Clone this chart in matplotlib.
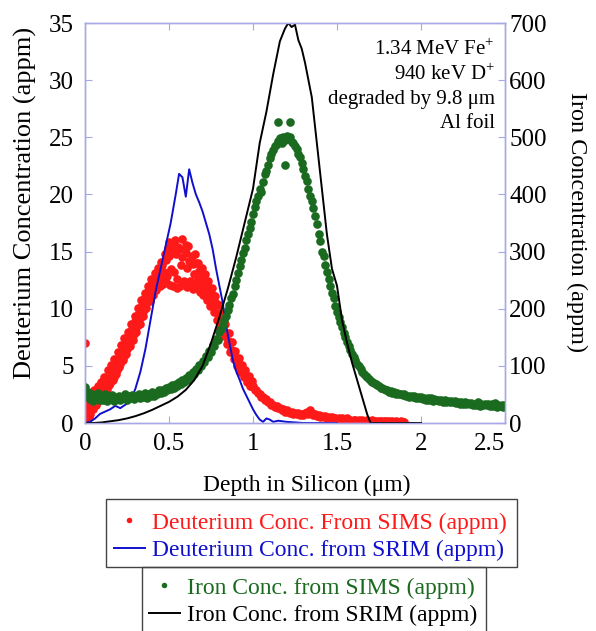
import numpy as np
import matplotlib.pyplot as plt
from matplotlib.lines import Line2D
from matplotlib.patches import Rectangle

plt.rcParams['font.family'] = 'Liberation Serif'
plt.rcParams['mathtext.fontset'] = 'custom'
plt.rcParams['mathtext.rm'] = 'Liberation Serif'

# Deuterium from SIMS (appm), sampled every 0.01 um
red_depth = np.round(np.arange(0, 1.905, 0.01), 2)
red_conc = [1.0, 0.3, 1.5, 0.8, 2.0, 1.2, 2.4, 1.8, 2.6, 2.2,
            3.0, 2.7, 3.4, 3.0, 3.9, 3.5, 4.4, 4.0, 5.0, 4.6,
            5.6, 5.2, 6.2, 5.9, 6.9, 6.5, 7.5, 7.1, 8.2, 7.8,
            8.9, 8.5, 9.6, 9.2, 10.3, 9.9, 11.0, 10.6, 11.7, 11.2,
            12.3, 11.9, 12.8, 12.4, 13.3, 12.8, 13.8, 13.2, 14.3, 12.9,
            14.6, 13.5, 15.0, 13.2, 14.8, 12.6, 15.2, 13.8, 14.5, 12.4,
            14.9, 13.6, 14.2, 12.3, 13.9, 13.0, 14.0, 12.6, 13.3, 12.2,
            12.9, 11.8, 12.4, 11.3, 11.8, 10.8, 11.2, 10.2, 10.5, 9.5,
            9.6, 8.8, 8.9, 8.0, 7.9, 7.2, 7.1, 6.4, 6.3, 5.8,
            5.6, 5.2, 5.1, 4.6, 4.5, 4.1, 4.0, 3.6, 3.6, 3.2,
            3.2, 2.9, 2.9, 2.6, 2.5, 2.3, 2.3, 2.0, 2.1, 1.8,
            1.8, 1.6, 1.6, 1.4, 1.5, 1.3, 1.3, 1.1, 1.2, 1.0,
            1.1, 1.0, 0.9, 1.0, 0.8, 0.9, 0.8, 0.9, 0.7, 0.8,
            0.7, 0.9, 1.0, 0.8, 1.1, 0.9, 0.7, 0.8, 0.6, 0.7,
            0.5, 0.6, 0.5, 0.6, 0.4, 0.5, 0.4, 0.5, 0.4, 0.4,
            0.3, 0.4, 0.3, 0.4, 0.3, 0.3, 0.4, 0.3, 0.3, 0.2,
            0.3, 0.3, 0.2, 0.3, 0.2, 0.3, 0.2, 0.2, 0.3, 0.2,
            0.2, 0.3, 0.2, 0.2, 0.1, 0.2, 0.2, 0.1, 0.2, 0.2,
            0.1, 0.2, 0.1, 0.2, 0.1, 0.2, 0.1, 0.1, 0.2, 0.1,
            0.1]

# second SIMS pass (offset half a step)
red2_depth = np.round(np.arange(0.005, 1.0, 0.01), 3)
red2_conc = [0.0, 1.9, 0.5, 2.3, 1.4, 2.9, 1.6, 3.2, 2.0, 3.6,
             2.5, 4.0, 2.9, 4.6, 3.3, 5.1, 3.8, 5.6, 4.3, 6.2,
             4.9, 6.8, 5.5, 7.4, 6.0, 8.0, 6.7, 8.7, 7.3, 9.4,
             8.0, 10.1, 8.7, 10.8, 9.4, 11.4, 10.1, 12.0, 10.7, 12.6,
             11.2, 13.1, 11.6, 13.6, 12.0, 14.1, 12.2, 14.8, 12.3, 15.3,
             12.1, 15.6, 12.0, 16.0, 11.8, 15.4, 12.0, 16.1, 12.2, 15.1,
             11.9, 15.5, 12.4, 14.6, 11.7, 14.8, 12.0, 14.0, 11.5, 13.6,
             11.2, 13.0, 10.8, 12.4, 10.2, 11.8, 9.7, 11.1, 9.0, 10.3,
             8.3, 9.5, 7.6, 8.7, 6.9, 7.9, 6.2, 7.1, 5.6, 6.3,
             5.0, 5.7, 4.5, 5.1, 4.0, 4.6, 3.6, 4.1, 3.2, 3.7]
red_out_depth = [0.0, 0.50, 0.60]
red_out_conc = [7.0, 15.8, 15.6]

# Deuterium from SRIM (appm)
blue_depth = [0.0, 0.03, 0.06, 0.09, 0.12, 0.15, 0.18, 0.21, 0.24, 0.27,
              0.30, 0.33, 0.36, 0.39, 0.42, 0.45, 0.48, 0.51, 0.54, 0.56,
              0.58, 0.60, 0.62, 0.64, 0.66, 0.68, 0.70, 0.72, 0.74, 0.76,
              0.78, 0.80, 0.82, 0.84, 0.86, 0.88, 0.90, 0.92, 0.94, 0.96,
              0.98, 1.00, 1.02, 1.04, 1.06, 1.08, 1.10, 1.12, 1.15, 1.20,
              1.30, 1.50]
blue_conc = [0.0, 0.1, 0.4, 0.8, 1.0, 1.2, 1.5, 1.3, 1.6, 1.9,
             3.0, 4.5, 6.5, 9.0, 11.5, 13.5, 15.5, 17.5, 20.0, 21.8,
             21.5, 19.8, 22.2, 21.0, 20.0, 19.3, 18.5, 17.5, 16.5, 15.2,
             13.5, 12.0, 10.5, 8.5, 7.0, 5.5, 4.5, 3.8, 3.0, 2.4,
             1.8, 1.2, 0.7, 0.3, 0.1, 0.4, 0.3, 0.1, 0.2, 0.1,
             0.0, 0.0]

# Iron from SIMS (appm), sampled every 0.01 um
green_depth = np.round(np.arange(0, 2.505, 0.01), 2)
green_conc = [63, 45, 55, 42, 50, 38, 48, 44, 52, 40,
              47, 41, 50, 39, 46, 43, 49, 38, 45, 42,
              48, 40, 46, 43, 50, 41, 47, 44, 49, 42,
              48, 45, 51, 43, 49, 46, 52, 44, 50, 48,
              54, 47, 53, 50, 57, 52, 58, 55, 61, 57,
              63, 59, 66, 62, 69, 65, 72, 68, 75, 72,
              79, 76, 84, 80, 89, 86, 95, 92, 102, 99,
              109, 107, 117, 115, 126, 124, 136, 134, 147, 146,
              160, 165, 172, 180, 188, 198, 206, 218, 226, 240,
              250, 262, 275, 285, 298, 306, 320, 330, 342, 352,
              365, 378, 388, 398, 410, 404, 422, 435, 441, 452,
              463, 470, 478, 485, 488, 494, 498, 490, 500, 496,
              502, 497, 500, 492, 490, 484, 480, 470, 466, 455,
              445, 432, 424, 410, 398, 388, 376, 362, 348, 330,
              318, 300, 292, 276, 265, 252, 240, 228, 218, 205,
              195, 185, 176, 168, 158, 150, 142, 135, 128, 120,
              115, 110, 104, 99, 95, 90, 86, 83, 80, 77,
              74, 72, 70, 68, 66, 64, 62, 61, 60, 58,
              57, 55, 56, 53, 54, 51, 52, 50, 51, 49,
              50, 47, 48, 46, 48, 45, 47, 44, 46, 43,
              45, 42, 44, 41, 43, 40, 43, 39, 42, 40,
              41, 38, 40, 37, 40, 36, 39, 37, 38, 36,
              38, 35, 37, 34, 37, 33, 36, 34, 35, 33,
              35, 32, 34, 31, 36, 30, 34, 32, 33, 31,
              34, 30, 33, 29, 35, 28, 32, 30, 31, 28,
              32]
green_out_depth = [1.15, 1.22, 1.19]
green_out_conc = [527, 527, 451]

# Iron from SRIM (appm)
black_depth = [0.00, 0.05, 0.10, 0.15, 0.20, 0.25, 0.30, 0.35, 0.40, 0.45,
               0.50, 0.55, 0.60, 0.65, 0.70, 0.75, 0.80, 0.85, 0.90, 0.95,
               1.00, 1.04, 1.08, 1.12, 1.16, 1.19, 1.21, 1.23, 1.25, 1.27,
               1.29, 1.31, 1.33, 1.35, 1.38, 1.41, 1.44, 1.47, 1.50, 1.53,
               1.56, 1.59, 1.62, 1.65, 1.68, 1.70, 1.80, 1.90, 2.00]
black_conc = [0, 0, 1, 3, 5, 8, 12, 17, 23, 30,
              37, 46, 58, 75, 100, 140, 185, 235, 290, 350,
              410, 490, 545, 610, 668, 690, 700, 693, 697, 670,
              655, 630, 600, 570, 490, 410, 330, 270, 240, 180,
              140, 105, 75, 45, 15, 0, 0, 0, 0]

red = '#ff1a1a'
blue = '#1010cc'
green = '#1a6b1f'
frame = '#a8a8e8'
W, H = 596, 631

fig = plt.figure(figsize=(W / 100, H / 100), dpi=100)
ax = fig.add_axes([85 / W, 1 - 423 / H, 420 / W, 400 / H])
ax2 = ax.twinx()

ms = 6.2
ax.plot(red_depth, red_conc, 'o', color=red, ms=ms, mew=0)
ax.plot(red2_depth, red2_conc, 'o', color=red, ms=ms, mew=0)
ax.plot(red_out_depth, red_out_conc, 'o', color=red, ms=ms, mew=0)
ax.plot(blue_depth, blue_conc, '-', color=blue, lw=1.4)

ax2.plot(green_depth, green_conc, 'o', color=green, ms=ms, mew=0)
ax2.plot(green_out_depth, green_out_conc, 'o', color=green, ms=ms, mew=0)
ax2.plot(black_depth, black_conc, '-', color='black', lw=1.4)

ax.set_xlim(0, 2.5)
ax.set_ylim(0, 35)
ax2.set_ylim(0, 700)
ax.set_xticks([0, 0.5, 1, 1.5, 2, 2.5])
ax.set_xticklabels(['0', '0.5', '1', '1.5', '2', '2.5'])
ax.get_xticklabels()[-1].set_horizontalalignment('right')
ax.set_yticks(range(0, 36, 5))
ax2.set_yticks(range(0, 701, 100))

for a in (ax, ax2):
    for s in a.spines.values():
        s.set_color(frame)
        s.set_linewidth(1.0)
ax.tick_params(axis='both', direction='in', length=5, color=frame,
               labelsize=18, top=True, right=False)
ax.tick_params(axis='y', pad=8)
ax.tick_params(axis='x', pad=7)
ax2.tick_params(axis='y', direction='in', length=5, color=frame,
                labelsize=18, pad=3)

fig.text(25 / W, 1 - 203 / H, 'Deuterium Concentration (appm)', rotation=90,
         ha='center', va='center', fontsize=19)
fig.text(577 / W, 1 - 222 / H, 'Iron Concentration (appm)', rotation=-90,
         ha='center', va='center', fontsize=17.5)
fig.text(307 / W, 1 - 485 / H, 'Depth in Silicon (\u03bcm)',
         ha='center', va='center', fontsize=17)

notes = ['1.34 MeV Fe$^{+}$', '940 keV D$^{+}$', 'degraded by 9.8 \u03bcm', 'Al foil']
for txt, py in zip(notes, [55, 80, 104, 128]):
    ax.text(0.976, (423 - py) / 400, txt, transform=ax.transAxes,
            ha='right', va='baseline', fontsize=15)

# legend boxes drawn by hand, entries placed by fig.legend
fig.patches.append(Rectangle((106 / W, 1 - 567 / H), 411 / W, 68 / H,
                             transform=fig.transFigure, fill=False,
                             edgecolor='#444444', lw=1.0))
fig.patches.append(Rectangle((142 / W, 1 - 640 / H), 344 / W, 73 / H,
                             transform=fig.transFigure, fill=False,
                             edgecolor='#444444', lw=1.0))

leg_kw = dict(loc='upper left', fontsize=17, frameon=False, borderpad=0,
              labelspacing=0.27, handlelength=1.31, handletextpad=0.3,
              borderaxespad=0)
h1 = [Line2D([], [], ls='none', marker='o', color=red, ms=4, mew=0),
      Line2D([], [], color=blue, lw=1.4)]
fig.legend(h1, ['Deuterium Conc. From SIMS (appm)',
                'Deuterium Conc. from SRIM (appm)'],
           bbox_to_anchor=(114 / W, 1 - 512 / H), labelcolor=[red, blue],
           **leg_kw)
h2 = [Line2D([], [], ls='none', marker='o', color=green, ms=4, mew=0),
      Line2D([], [], color='black', lw=1.4)]
fig.legend(h2, ['Iron Conc. from SIMS (appm)',
                'Iron Conc. from SRIM (appm)'],
           bbox_to_anchor=(149 / W, 1 - 577 / H), labelcolor=[green, 'black'],
           **leg_kw)

fig.savefig('out.png', dpi=100)
